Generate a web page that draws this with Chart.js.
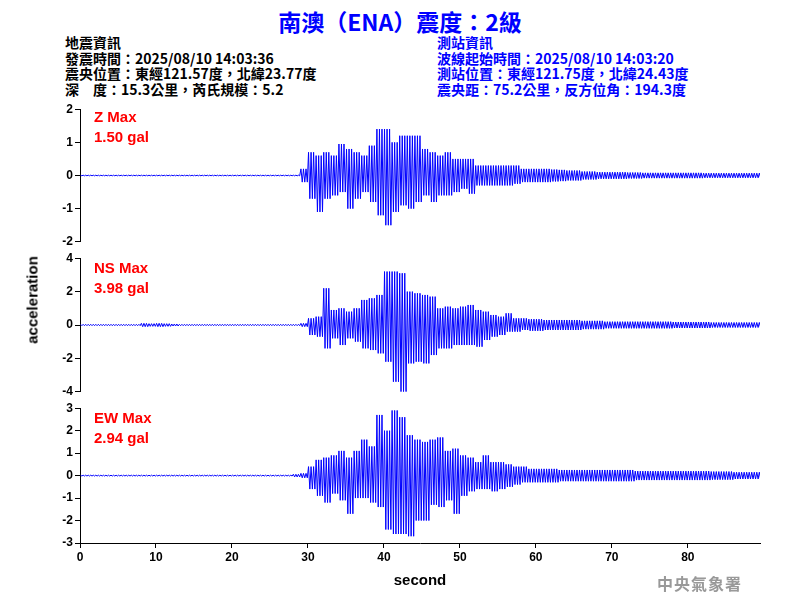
<!DOCTYPE html>
<html>
<head>
<meta charset="utf-8">
<script src="https://cdn.jsdelivr.net/npm/chart.js@4"></script>
<style>
  body { margin: 0; background: #fff; font-family: 'Liberation Sans', Arial, sans-serif; }
  #wrap { position: relative; width: 800px; height: 600px; }
  .cv { position: absolute; left: 0; width: 800px; }
  .txt { position: absolute; white-space: nowrap; }
  .info { font-family: 'Noto Sans CJK TC', serif; font-weight: bold; font-size: 14px; line-height: 15.5px; }
  .mx { color: #f00; font-size: 15px; font-weight: bold; line-height: 20px; }
</style>
</head>
<body>
<div id="wrap">
  <div class="txt" style="left:0;width:800px;top:4px;text-align:center;color:#0000ff;font-size:23px;font-weight:bold;font-family:'Noto Sans CJK TC',sans-serif;">南澳（ENA）震度：2級</div>
  <div class="txt info" style="left:65px;top:35px;color:#000;">地震資訊<br>發震時間：2025/08/10 14:03:36<br>震央位置：東經121.57度，北緯23.77度<br>深　度：15.3公里，芮氏規模：5.2</div>
  <div class="txt info" style="left:437px;top:35px;color:#0000ff;">測站資訊<br>波線起始時間：2025/08/10 14:03:20<br>測站位置：東經121.75度，北緯24.43度<br>震央距：75.2公里，反方位角：194.3度</div>
  <div class="cv" style="top:100px;height:151px;"><canvas id="cZ"></canvas></div>
  <div class="cv" style="top:249px;height:152px;"><canvas id="cNS"></canvas></div>
  <div class="cv" style="top:399px;height:170px;"><canvas id="cEW"></canvas></div>
  <div class="txt mx" style="left:94px;top:107px;">Z Max<br>1.50 gal</div>
  <div class="txt mx" style="left:94px;top:258px;">NS Max<br>3.98 gal</div>
  <div class="txt mx" style="left:94px;top:408px;">EW Max<br>2.94 gal</div>
  <div class="txt" style="left:32px;top:300px;transform:translate(-50%,-50%) rotate(-90deg);font-size:15px;font-weight:bold;">acceleration</div>
  <div class="txt" style="left:0;width:800px;top:571px;text-align:center;font-size:15px;font-weight:bold;padding-left:40px;box-sizing:border-box;">second</div>
  <div class="txt" style="left:657px;top:571px;color:#999;font-size:16px;font-weight:bold;font-family:'Noto Sans CJK TC',serif;letter-spacing:1px;">中央氣象署</div>
</div>
<script>
// envelope of each trace per second (t = 0..89), in gal
const seconds = Array.from({ length: 90 }, (_, i) => i);

const zTop = [0.01,0.01,0.01,0.01,0.01,0.01,0.01,0.01,0.01,0.01, 0.01,0.01,0.01,0.01,0.01,0.01,0.01,0.01,0.01,0.01,
  0.01,0.01,0.01,0.01,0.01,0.01,0.01,0.01,0.01,0.2, 0.7,0.6,0.7,0.6,0.95,0.8,0.7,0.6,0.9,1.4,
  1.4,1.0,1.2,1.2,1.2,0.8,0.7,0.6,0.7,0.5, 0.5,0.5,0.3,0.3,0.3,0.3,0.3,0.3,0.2,0.2,
  0.2,0.2,0.18,0.17,0.15,0.15,0.12,0.12,0.1,0.1, 0.1,0.1,0.09,0.09,0.08,0.08,0.08,0.08,0.08,0.08,
  0.08,0.08,0.07,0.07,0.07,0.07,0.07,0.07,0.07,0.07];
const zBot = [-0.01,-0.01,-0.01,-0.01,-0.01,-0.01,-0.01,-0.01,-0.01,-0.01, -0.01,-0.01,-0.01,-0.01,-0.01,-0.01,-0.01,-0.01,-0.01,-0.01,
  -0.01,-0.01,-0.01,-0.01,-0.01,-0.01,-0.01,-0.01,-0.01,-0.2, -0.7,-1.1,-0.7,-0.6,-0.5,-1.0,-0.7,-0.5,-0.8,-1.2,
  -1.5,-1.1,-0.9,-1.0,-0.8,-0.6,-0.8,-0.6,-0.6,-0.5, -0.4,-0.55,-0.3,-0.3,-0.3,-0.3,-0.3,-0.25,-0.2,-0.2,
  -0.2,-0.2,-0.18,-0.17,-0.15,-0.15,-0.12,-0.12,-0.1,-0.1, -0.1,-0.1,-0.09,-0.09,-0.08,-0.08,-0.08,-0.08,-0.08,-0.08,
  -0.08,-0.08,-0.07,-0.07,-0.07,-0.07,-0.07,-0.07,-0.07,-0.07];

const nsTop = [0.04,0.04,0.04,0.04,0.04,0.04,0.04,0.04,0.1,0.08, 0.1,0.08,0.06,0.04,0.04,0.04,0.04,0.04,0.04,0.04,
  0.04,0.04,0.04,0.04,0.04,0.04,0.04,0.04,0.04,0.1, 0.4,0.5,2.2,0.9,1.0,0.8,1.0,1.5,1.6,1.8,
  3.2,3.2,3.1,2.0,1.9,1.8,1.7,1.0,1.1,1.0, 1.1,1.2,0.9,0.8,0.6,0.5,0.7,0.4,0.4,0.35,
  0.35,0.3,0.3,0.3,0.3,0.3,0.25,0.25,0.25,0.2, 0.2,0.2,0.2,0.2,0.2,0.2,0.2,0.2,0.18,0.18,
  0.18,0.18,0.18,0.15,0.15,0.15,0.15,0.15,0.15,0.15];
const nsBot = [-0.04,-0.04,-0.04,-0.04,-0.04,-0.04,-0.04,-0.04,-0.1,-0.08, -0.1,-0.08,-0.06,-0.04,-0.04,-0.04,-0.04,-0.04,-0.04,-0.04,
  -0.04,-0.04,-0.04,-0.04,-0.04,-0.04,-0.04,-0.04,-0.04,-0.1, -0.6,-0.7,-1.4,-0.8,-1.2,-0.8,-1.0,-1.4,-1.5,-1.7,
  -2.2,-3.4,-4.0,-2.3,-2.2,-2.3,-1.8,-1.4,-1.4,-1.2, -1.2,-1.2,-1.3,-0.9,-0.7,-0.6,-0.4,-0.4,-0.3,-0.35,
  -0.35,-0.3,-0.3,-0.3,-0.3,-0.3,-0.25,-0.25,-0.25,-0.2, -0.2,-0.2,-0.2,-0.2,-0.2,-0.2,-0.2,-0.2,-0.18,-0.18,
  -0.18,-0.18,-0.18,-0.15,-0.15,-0.15,-0.15,-0.15,-0.15,-0.15];

const ewTop = [0.02,0.02,0.02,0.02,0.02,0.02,0.02,0.02,0.02,0.02, 0.02,0.02,0.02,0.02,0.02,0.02,0.02,0.02,0.02,0.02,
  0.02,0.02,0.02,0.02,0.02,0.02,0.02,0.02,0.06,0.1, 0.4,0.7,0.8,0.9,1.1,0.8,1.1,1.6,1.3,2.7,
  2.0,2.9,2.6,1.8,1.6,1.5,1.6,1.7,1.1,1.2, 0.9,0.8,0.6,0.9,0.6,0.6,0.5,0.4,0.4,0.3,
  0.3,0.3,0.3,0.25,0.25,0.25,0.25,0.25,0.25,0.25, 0.25,0.25,0.25,0.2,0.2,0.2,0.2,0.2,0.2,0.2,
  0.2,0.2,0.2,0.18,0.18,0.18,0.15,0.15,0.15,0.15];
const ewBot = [-0.02,-0.02,-0.02,-0.02,-0.02,-0.02,-0.02,-0.02,-0.02,-0.02, -0.02,-0.02,-0.02,-0.02,-0.02,-0.02,-0.02,-0.02,-0.02,-0.02,
  -0.02,-0.02,-0.02,-0.02,-0.02,-0.02,-0.02,-0.02,-0.06,-0.1, -0.6,-0.9,-1.2,-0.8,-1.1,-1.7,-1.0,-1.0,-1.2,-1.4,
  -2.4,-2.6,-2.6,-2.7,-2.0,-2.0,-1.3,-1.4,-1.1,-1.7, -0.9,-0.7,-0.6,-0.6,-0.7,-0.6,-0.5,-0.4,-0.3,-0.3,
  -0.3,-0.3,-0.3,-0.25,-0.25,-0.25,-0.25,-0.25,-0.25,-0.25, -0.25,-0.25,-0.25,-0.2,-0.2,-0.2,-0.2,-0.2,-0.2,-0.2,
  -0.2,-0.2,-0.2,-0.18,-0.18,-0.18,-0.15,-0.15,-0.15,-0.15];

const xTicks = [0, 10, 20, 30, 40, 50, 60, 70, 80];
const zTicks = [-2, -1, 0, 1, 2];
const nsTicks = [-4, -2, 0, 2, 4];
const ewTicks = [-3, -2, -1, 0, 1, 2, 3];

// alternate envelope top / bottom a few times inside each second so the line swings like a trace
function trace(top, bot) {
    const pts = [];
    seconds.forEach(function(t, i) {
        for (let k = 0; k < 3; k++) {
            pts.push({ x: t + k / 3 + 0.08, y: top[i] });
            pts.push({ x: t + k / 3 + 0.25, y: bot[i] });
        }
    });
    return pts;
}

const tickFont = { family: "'Liberation Sans', Arial, sans-serif", size: 12, weight: 'bold' };

function makeChart(id, top, bot, ticks, showX) {
    new Chart(document.getElementById(id), {
        type: 'line',
        data: {
            datasets: [{
                data: trace(top, bot),
                borderColor: '#0000ff',
                borderWidth: 1,
                pointRadius: 0,
                tension: 0
            }]
        },
        options: {
            responsive: true,
            maintainAspectRatio: false,
            animation: false,
            layout: { padding: { top: 8, bottom: showX ? 0 : 8, right: 40 } },
            plugins: { legend: { display: false }, tooltip: { enabled: false } },
            scales: {
                x: {
                    type: 'linear',
                    min: 0,
                    max: 89.5,
                    display: showX,
                    afterBuildTicks: function(axis) { axis.ticks = xTicks.map(v => ({ value: v })); },
                    afterFit: function(axis) { if (showX) axis.height = 26; },
                    ticks: { color: '#000', font: tickFont, padding: 2 },
                    grid: { drawOnChartArea: false, color: '#000', tickLength: 5 },
                    border: { color: '#000', width: 1 }
                },
                y: {
                    min: ticks[0],
                    max: ticks[ticks.length - 1],
                    afterBuildTicks: function(axis) { axis.ticks = ticks.map(v => ({ value: v })); },
                    afterFit: function(axis) { axis.width = 80; },
                    ticks: { color: '#000', font: tickFont, padding: 2 },
                    grid: { drawOnChartArea: false, color: '#000', tickLength: 5 },
                    border: { color: '#000', width: 1 }
                }
            }
        }
    });
}

makeChart('cZ', zTop, zBot, zTicks, false);
makeChart('cNS', nsTop, nsBot, nsTicks, false);
makeChart('cEW', ewTop, ewBot, ewTicks, true);
</script>
</body>
</html>
